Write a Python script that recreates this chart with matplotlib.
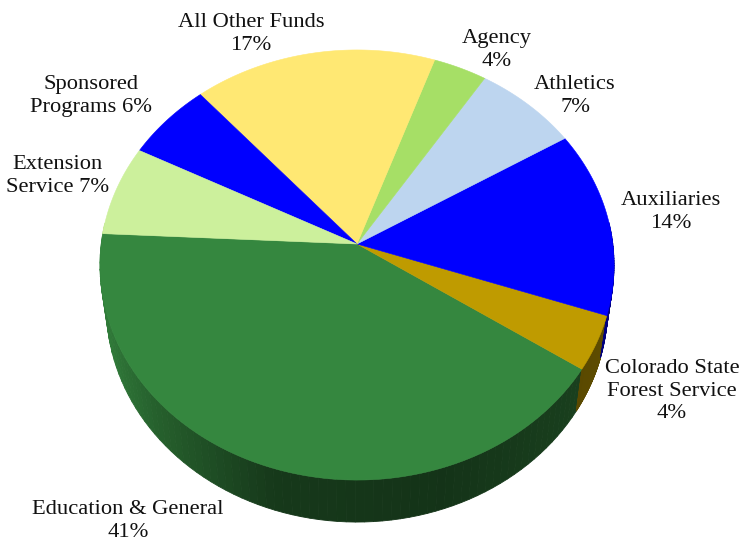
from matplotlib import pyplot as plt
from matplotlib.colors import to_rgb
from matplotlib.patches import Polygon
import numpy as np

labels = ['Education & General\n41%', 'Colorado State\nForest Service\n4%', 'Auxiliaries\n14%', 'Athletics\n7%',
          'Agency\n4%', 'All Other Funds\n17%', 'Sponsored\nPrograms 6%', 'Extension\nService 7%']
valores = [41.4, 4.1, 14.0, 7.2, 3.7, 16.8, 6.0, 6.8]
cores = ['#35873f', '#bf9b00', '#0000ff', '#bdd5ef', '#a6df66', '#ffe873', '#0000ff', '#ccf09c']
pos_labels = [(128, 521), (672, 391), (671, 212), (575, 96), (497, 50), (251, 34), (91, 96), (58, 176)]

# apex e projecao do disco (perspectiva)
cx, cy = 357, 244
a, b, k = 213, 255.8, 0.0977
prof = 42
inicio = 177.2  # graus, a fatia grande comeca na esquerda

def topo(t):
    X, Y = np.cos(t), np.sin(t)
    return cx + b * X / (1 + k * Y), cy - a * Y / (1 + k * Y)

def base(t):
    x, y = topo(t)
    return cx + (x - cx) * 0.975, y + prof

def sombra(t):
    # mais claro na esquerda, escuro na frente e na direita
    return np.interp(np.cos(t), [-1, -0.75, -0.3, 0.3, 1], [0.95, 0.72, 0.42, 0.38, 0.5])

fig = plt.figure(figsize=(7.41, 5.44), dpi=100)
ax = fig.add_axes([0, 0, 1, 1])
ax.set_xlim(0, 741)
ax.set_ylim(544, 0)
ax.axis('off')

angulos = np.radians(inicio + np.cumsum([0] + valores) * 3.6)

# parede lateral primeiro
for i, cor in enumerate(cores):
    ts = np.linspace(angulos[i], angulos[i + 1], 80)
    for t0, t1 in zip(ts[:-1], ts[1:]):
        if np.sin((t0 + t1) / 2) > 0.1:
            continue
        x0, y0 = topo(t0)
        x1, y1 = topo(t1)
        x2, y2 = base(t1)
        x3, y3 = base(t0)
        c = np.array(to_rgb(cor)) * sombra((t0 + t1) / 2)
        ax.add_patch(Polygon([(x0, y0), (x1, y1), (x2, y2), (x3, y3)], closed=True, fc=c, ec=c, lw=0.6))

# tampa
for i, cor in enumerate(cores):
    ts = np.linspace(angulos[i], angulos[i + 1], 80)
    xs, ys = topo(ts)
    pts = [(cx, cy)] + list(zip(xs, ys))
    ax.add_patch(Polygon(pts, closed=True, fc=cor, ec=cor, lw=0.4))

for txt, (x, y) in zip(labels, pos_labels):
    ax.text(x, y, txt, ha='center', va='center', family='Liberation Serif', fontsize=16.2, linespacing=1.22, color='#111111')

fig.savefig('out.png', dpi=100)
